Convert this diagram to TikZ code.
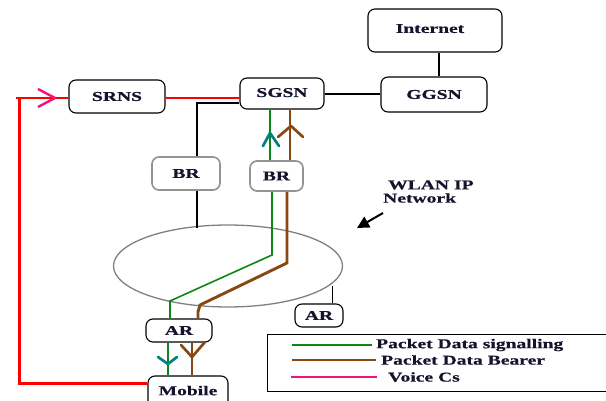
\documentclass[tikz,border=0pt]{standalone}
\usepackage{fontspec}
\newfontfamily\lab[FakeStretch=1.45,FakeBold=0.6]{Liberation Serif}
\usetikzlibrary{arrows.meta,shapes.geometric}
\definecolor{txt}{RGB}{20,20,45}
\definecolor{sgreen}{RGB}{10,135,20}
\definecolor{sbrown}{RGB}{135,72,18}
\definecolor{steal}{RGB}{0,128,128}
\definecolor{spink}{RGB}{240,20,120}
\definecolor{sred}{RGB}{255,0,0}
\tikzset{
  box/.style={draw=black,line width=1.1pt,rounded corners=7pt,inner sep=0pt,font=\lab\bfseries\fontsize{13.5}{15}\selectfont,text=txt},
  graybox/.style={box,draw=gray!85,line width=1.6pt},
  lbl/.style={inner sep=0pt,font=\lab\bfseries\fontsize{13.5}{15}\selectfont,text=txt},
  blk/.style={draw=black,line width=1.5pt},
  grn/.style={draw=sgreen,line width=1.6pt},
  brn/.style={draw=sbrown,line width=2.9pt},
  tealhead/.style={draw=steal,line width=2.7pt,line join=round,line cap=round},
  brnhead/.style={draw=sbrown,line width=2.7pt,line join=round,line cap=round},
}
\begin{document}
\begin{tikzpicture}[x=1pt,y=-1pt]
\useasboundingbox (0,0) rectangle (606,401);
\clip (0,0) rectangle (606,401);
% boxes
\node[box,minimum width=134pt,minimum height=43pt] (internet) at (435,30.5) {\raisebox{4pt}{Internet\hspace{10pt}}};
\node[box,minimum width=106pt,minimum height=35pt] (ggsn) at (434,94.5) {GGSN\hspace{12pt}};
\node[box,minimum width=84pt,minimum height=31pt] (sgsn) at (282,93.5) {\raisebox{2pt}{SGSN}};
\node[box,minimum width=96pt,minimum height=33pt] (srns) at (117,96.5) {SRNS};
\node[graybox,minimum width=68pt,minimum height=33pt] (br1) at (186,173.5) {BR};
\node[graybox,minimum width=53pt,minimum height=30pt] (br2) at (276.5,176) {BR};
\node[box,minimum width=66pt,minimum height=23pt] (ar1) at (179,330.5) {AR};
\node[box,minimum width=48pt,minimum height=23pt] (ar2) at (319,315.5) {AR};
\node[box,minimum width=80pt,minimum height=32pt] (mobile) at (188,392) {\raisebox{3pt}{Mobile}};
\node[draw=gray,line width=1.3pt,ellipse,minimum width=229pt,minimum height=82pt,inner sep=0pt] (wlan) at (228,266) {};
% WLAN label and arrow
\node[lbl,anchor=west] (wlantxt) at (388,185) {WLAN IP};
\node[lbl,anchor=west] (nettxt) at (383,198) {Network};
\coordinate (arrS) at (383,213);
\coordinate (arrE) at (357,228);
\draw[black,line width=2pt,-{Triangle[length=12pt,width=12pt]}] (arrS) -- (arrE);
% black connectors
\draw[blk] (internet.south -| 439,0) -- (ggsn.north -| 439,0);
\draw[draw=black,line width=1.2pt] (sgsn.east |- 0,94) -- (ggsn.west |- 0,94);
\draw[sred,line width=1.6pt] (srns.east |- 0,98) -- (sgsn.west |- 0,98);
\draw[blk] (sgsn.west |- 0,103) -| (br1.north -| 197,0);
\coordinate (elltop) at (197,228);
\draw[blk] (br1.south -| 197,0) -- (elltop);
\coordinate (ellar) at (332,286);
\draw[draw=black,line width=1pt] (ellar) -- (ar2.north -| 332,0);
% green signalling path
\coordinate (g1) at (272,255);
\coordinate (g2) at (170,301);
\draw[grn] (sgsn.south -| 270,0) -- (br2.north -| 270,0);
\draw[grn] (br2.south -| 272,0) -- (g1) -- (g2) -- (ar1.north -| 170,0);
\draw[grn] (ar1.south -| 168,0) -- (mobile.north -| 168,0);
% brown bearer path
\coordinate (b1) at (287,263);
\coordinate (b2) at (200,305);
\coordinate (b3) at (198,312);
\draw[brn] (sgsn.south -| 290,0) -- (br2.north -| 290,0);
\draw[brn] (br2.south -| 287,0) -- (b1) -- (b2) -- (b3) -- (ar1.north -| 198,0);
\draw[brn] (ar1.south -| 192,0) -- (mobile.north -| 192,0);
% arrowheads
\draw[tealhead] (263,146) -- (270,133) -- (279,146);
\draw[tealhead] (158,357) -- (168,364) -- (177,357);
\draw[brnhead] (278,137) -- (291,126) -- (303,137);
\draw[brnhead] (181,345) -- (192,357) -- (205,342);
% voice path
\coordinate (v1) at (19,383);
\coordinate (v2) at (19,98);
\coordinate (v0) at (16,98);
\draw[sred,line width=3pt] (mobile.west |- 0,383) -- (v1) -- (v2);
\draw[sred,line width=2.5pt] (v0) -- (srns.west |- 0,98);
\draw[spink,line width=2.4pt,line join=round] (38,89) -- (55,98) -- (38,107);
% legend
\node[draw=black,line width=1pt,minimum width=353pt,minimum height=57pt,inner sep=0pt] (legend) at (443.5,362.5) {};
\coordinate (l1a) at (292,345); \coordinate (l1b) at (372,345);
\coordinate (l2a) at (292,360); \coordinate (l2b) at (376,360);
\coordinate (l3a) at (291,377); \coordinate (l3b) at (377,377);
\draw[sgreen,line width=2.2pt] (l1a) -- (l1b);
\draw[sbrown,line width=2.4pt] (l2a) -- (l2b);
\draw[spink,line width=2.4pt] (l3a) -- (l3b);
\node[lbl,anchor=west] (t1) at (376,345) {Packet Data signalling};
\node[lbl,anchor=west] (t2) at (381,360) {Packet Data Bearer};
\node[lbl,anchor=west] (t3) at (388,377) {Voice Cs};
\end{tikzpicture}
\end{document}
